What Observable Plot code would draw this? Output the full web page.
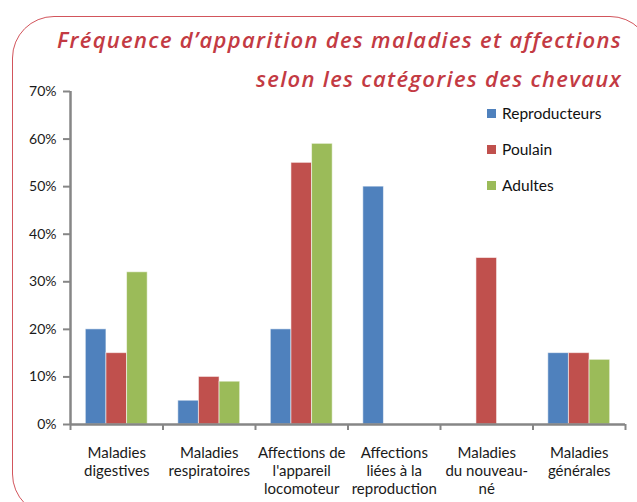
<!DOCTYPE html>
<html>
<head>
<meta charset="utf-8">
<script src="https://cdn.jsdelivr.net/npm/d3@7"></script>
<script src="https://cdn.jsdelivr.net/npm/@observablehq/plot@0.6"></script>
<style>
  html, body { margin: 0; padding: 0; background: #fff; }
  #wrap { position: relative; width: 637px; height: 502px; overflow: hidden; font-family: Lato, "Open Sans", sans-serif; }
  #frame { position: absolute; left: 12px; top: 16px; width: 640px; height: 500px; border: 1.3px solid #d2555c; border-radius: 42px; box-sizing: border-box; }
  #chart { position: absolute; left: 0; top: 0; }
  #title { position: absolute; right: 15px; top: 20px; text-align: right; color: #c33a43; font-family: "Open Sans", sans-serif; font-style: italic; font-weight: 600; font-size: 22px; line-height: 39px; letter-spacing: 1.3px; white-space: nowrap; }
  #legend { position: absolute; left: 487px; top: 104px; font-size: 15.5px; color: #111; }
  .item { position: relative; height: 36px; }
  .sw { position: absolute; left: 0; top: 5px; width: 9px; height: 9px; }
  .lab { position: absolute; left: 15px; top: 0; white-space: nowrap; }
</style>
</head>
<body>
<div id="wrap">
  <div id="frame"></div>
  <div id="chart"></div>
  <div id="title">Fréquence d’apparition des maladies et affections<br>selon les catégories des chevaux</div>
  <div id="legend"></div>
</div>
<script>
const categories = ["Maladies digestives", "Maladies respiratoires", "Affections de l'appareil locomoteur", "Affections liées à la reproduction", "Maladies du nouveau-né", "Maladies générales"];
const tickLabels = ["Maladies\ndigestives", "Maladies\nrespiratoires", "Affections de\nl'appareil\nlocomoteur", "Affections\nliées à la\nreproduction", "Maladies\ndu nouveau-\nné", "Maladies\ngénérales"];
const series = ["Reproducteurs", "Poulain", "Adultes"];
const colors = ["#4f81bd", "#c0504d", "#9bbb59"];
const reproducteurs = [0.20, 0.05, 0.20, 0.50, 0, 0.15];
const poulain = [0.15, 0.10, 0.55, 0, 0.35, 0.15];
const adultes = [0.32, 0.09, 0.59, 0, 0, 0.136];
const yTicks = [0, 0.1, 0.2, 0.3, 0.4, 0.5, 0.6, 0.7];

const values = [reproducteurs, poulain, adultes];
const barW = 0.223;
const rows = [];
categories.forEach((c, i) => {
  series.forEach((s, j) => {
    const v = values[j][i];
    if (v > 0) rows.push({cat: i, series: s, j, value: v});
  });
});

const chart = Plot.plot({
  width: 637,
  height: 502,
  marginLeft: 70,
  marginRight: 12,
  marginTop: 91,
  marginBottom: 78,
  style: {fontFamily: "Lato, 'Open Sans', sans-serif", fontSize: "14px", color: "#1a1a1a", background: "transparent"},
  x: {domain: [0, categories.length], axis: null},
  y: {domain: [0, 0.7], axis: null},
  color: {domain: series, range: colors},
  marks: [
    Plot.rectY(rows, {
      x1: d => d.cat + 0.5 + (d.j - 1.5) * barW,
      x2: d => d.cat + 0.5 + (d.j - 0.5) * barW,
      y: "value",
      fill: "series",
      stroke: "#ffffff",
      strokeOpacity: 0.55,
      strokeWidth: 1
    }),
    Plot.axisY({ticks: yTicks, tickFormat: d3.format(".0%"), label: null, tickSize: 7, tickPadding: 7, stroke: "#868686", strokeWidth: 2, fontSize: 14}),
    Plot.axisX({ticks: d3.range(categories.length + 1), tickFormat: () => "", label: null, tickSize: 6, stroke: "#868686", strokeWidth: 2}),
    Plot.ruleX([0], {stroke: "#868686", strokeWidth: 2.5}),
    Plot.ruleY([0], {stroke: "#868686", strokeWidth: 2.5}),
    Plot.text(d3.range(categories.length), {
      x: i => i + 0.5,
      text: i => tickLabels[i],
      frameAnchor: "bottom",
      lineAnchor: "top",
      dy: 21,
      lineHeight: 1.2,
      fontSize: 15,
      fill: "#1a1a1a"
    })
  ]
});
document.getElementById("chart").appendChild(chart);

const legend = document.getElementById("legend");
series.forEach((s, j) => {
  const item = document.createElement("div");
  item.className = "item";
  item.innerHTML = `<span class="sw" style="background:${colors[j]}"></span><span class="lab">${s}</span>`;
  legend.appendChild(item);
});
</script>
</body>
</html>
